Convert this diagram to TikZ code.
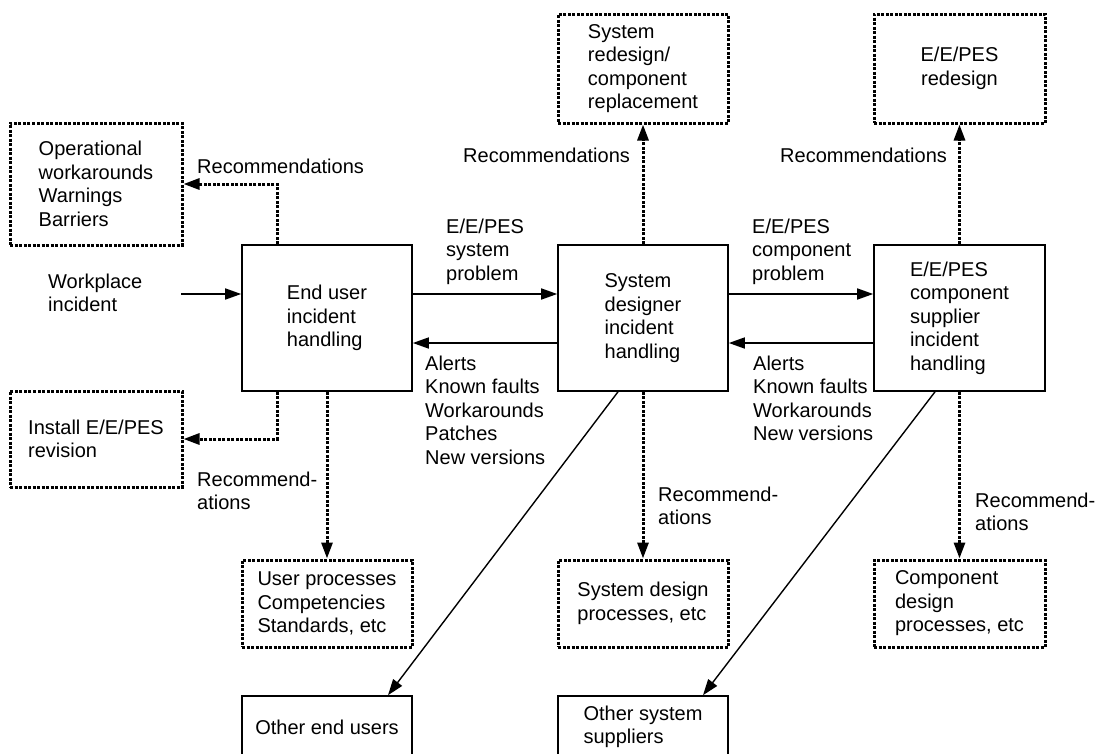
\documentclass[tikz,border=0pt]{standalone}
\usepackage{fontspec}
\setmainfont{Liberation Sans}
\usetikzlibrary{arrows.meta}
\begin{document}
\begin{tikzpicture}[x=1pt,y=-1pt,
  every node/.style={font=\fontsize{20}{23.5}\selectfont, inner sep=0pt},
  box/.style={draw, line width=1.6pt, align=left},
  dotbox/.style={draw, line width=3pt, dash pattern=on 3pt off 1.5pt, align=left},
  txt/.style={align=left, anchor=base west},
  tip/.style={-{Triangle[length=16pt,width=11pt]}},
  flow/.style={line width=1.6pt, tip},
  diag/.style={line width=1.4pt, tip},
  recflow/.style={line width=3pt, dash pattern=on 3pt off 1.5pt, tip}
]
\fill[white] (0,0) rectangle (1098,753);
\useasboundingbox (0,0) rectangle (1098,753);

% incident handling chain
\node[box, minimum width=170pt, minimum height=146pt] (eu) at (327,318)
  {End user\\incident\\handling};
\node[box, minimum width=170pt, minimum height=146pt] (sd) at (643,318)
  {System\\designer\\incident\\handling};
\node[box, minimum width=171pt, minimum height=146pt] (comp) at (959.5,318)
  {E/E/PES\\component\\supplier\\incident\\handling};

% outcome boxes
\node[dotbox, minimum width=172pt, minimum height=122pt] (op) at (96,184)
  {Operational\\workarounds\\Warnings\\Barriers};
\node[dotbox, minimum width=172pt, minimum height=96pt] (inst) at (96,439)
  {Install E/E/PES\\revision};
\node[dotbox, minimum width=170pt, minimum height=109pt] (sr) at (643,68.5)
  {System\\redesign/\\component\\replacement};
\node[dotbox, minimum width=171pt, minimum height=109pt, align=center] (er) at (959.5,68.5)
  {E/E/PES\\redesign};
\node[dotbox, minimum width=170pt, minimum height=87pt] (up) at (327,603.5)
  {User processes\\Competencies\\Standards, etc};
\node[dotbox, minimum width=170pt, minimum height=87pt] (sdp) at (643,603.5)
  {System design\\processes, etc};
\node[dotbox, minimum width=171pt, minimum height=87pt] (cdp) at (959.5,603.5)
  {Component\\design\\processes, etc};
\node[box, minimum width=170pt, minimum height=62pt] (oeu) at (327,727)
  {Other end users};
\node[box, minimum width=170pt, minimum height=62pt] (oss) at (643,727)
  {Other system\\suppliers};

% free labels (anchored at the baseline of their last line)
\node[txt] (wp) at (48,311.5) {Workplace\\incident};
\node[txt] (lsys) at (446,280) {E/E/PES\\system\\problem};
\node[txt] (lcomp) at (752,280) {E/E/PES\\component\\problem};
\node[txt] (la1) at (425,464) {Alerts\\Known faults\\Workarounds\\Patches\\New versions};
\node[txt] (la2) at (753,440.5) {Alerts\\Known faults\\Workarounds\\New versions};
\node[txt] (r1) at (197,173) {Recommendations};
\node[txt] (r2) at (463,162) {Recommendations};
\node[txt] (r3) at (780,162) {Recommendations};
\node[txt] (r4) at (197,509.5) {Recommend-\\ations};
\node[txt] (r5) at (658,524.5) {Recommend-\\ations};
\node[txt] (r6) at (975,530.5) {Recommend-\\ations};

% solid flows
\coordinate (wpend) at (181,294);
\draw[flow] (wpend) -- (eu.west |- wpend);
\draw[flow] ([yshift=24pt]eu.east) -- ([yshift=24pt]sd.west);
\draw[flow] ([yshift=-25pt]sd.west) -- ([yshift=-25pt]eu.east);
\draw[flow] ([yshift=24pt]sd.east) -- ([yshift=24pt]comp.west);
\draw[flow] ([yshift=-25pt]comp.west) -- ([yshift=-25pt]sd.east);
\draw[diag] ([xshift=-25pt]sd.south) -- ([xshift=61pt]oeu.north);
\draw[diag] ([xshift=-24.5pt]comp.south) -- ([xshift=60pt]oss.north);

% recommendation flows
\draw[recflow] ([xshift=36pt]eu.north west) |- (op.east);
\draw[recflow] ([xshift=36pt]eu.south west) |- (inst.east);
\draw[recflow] (eu.south) -- (up.north);
\draw[recflow] (sd.north) -- (sr.south);
\draw[recflow] (sd.south) -- (sdp.north);
\draw[recflow] (comp.north) -- (er.south);
\draw[recflow] (comp.south) -- (cdp.north);
\end{tikzpicture}
\end{document}
